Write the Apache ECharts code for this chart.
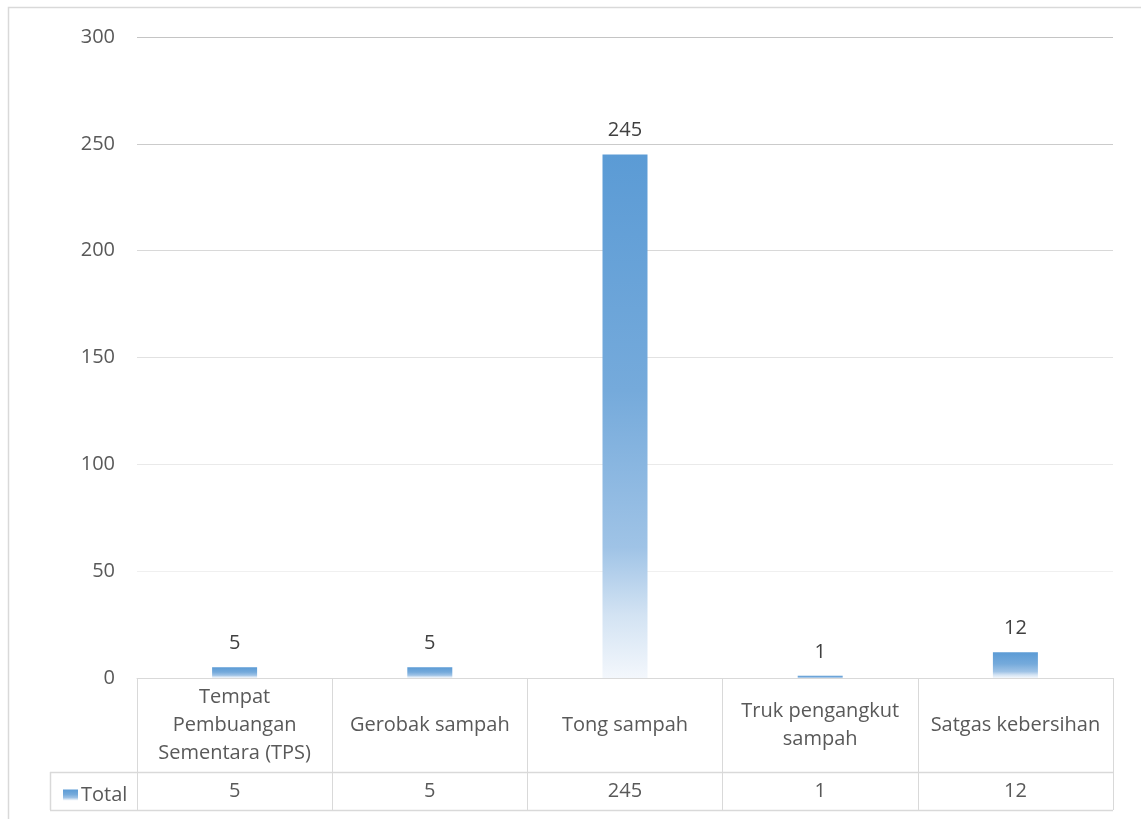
<!DOCTYPE html>
<html>
<head>
<meta charset="utf-8">
<script src="https://cdn.jsdelivr.net/npm/echarts@6/dist/echarts.min.js"></script>
<style>
  html, body { margin: 0; padding: 0; background: #ffffff; }
  #chart { width: 1141px; height: 819px; }
</style>
</head>
<body>
<div id="chart"></div>
<script>
// Fasilitas kebersihan: jumlah per jenis
const categories = [
  'Tempat\nPembuangan\nSementara (TPS)',
  'Gerobak sampah',
  'Tong sampah',
  'Truk pengangkut\nsampah',
  'Satgas kebersihan'
];
const totals = [5, 5, 245, 1, 12];
const seriesName = 'Total';
const yTicks = { min: 0, max: 300, interval: 50 };

const FONT = '"Open Sans", "DejaVu Sans", sans-serif';
const FS = 20;
const gridLeft = 137, gridRight = 28, gridTop = 37, gridBottom = 141;
const W = 1141, H = 819;
const axisY = H - gridBottom;          // y of the value-0 line
const row1Bottom = 772, row2Bottom = 810, tableLeft = 50;
const lineColor = '#d9d9d9';

const barGradient = {
  type: 'linear', x: 0, y: 0, x2: 0, y2: 1,
  colorStops: [
    { offset: 0, color: '#5b9bd5' },
    { offset: 0.45, color: '#75aadb' },
    { offset: 0.75, color: '#9fc3e6' },
    { offset: 0.88, color: '#d3e3f3' },
    { offset: 1, color: '#f3f7fc' }
  ]
};

const chart = echarts.init(document.getElementById('chart'), null, { renderer: 'canvas' });

chart.setOption({
  animation: false,
  backgroundColor: '#ffffff',
  grid: { left: gridLeft, right: gridRight, top: gridTop, bottom: gridBottom, containLabel: false },
  legend: {
    left: 58, top: 780,
    itemWidth: 15, itemHeight: 11, itemGap: 4,
    icon: 'rect',
    textStyle: { fontFamily: FONT, fontSize: FS, color: '#595959', padding: [0, 0, 0, -2] },
    data: [seriesName]
  },
  xAxis: [
    {
      type: 'category',
      data: categories,
      boundaryGap: true,
      axisLine: { show: true, lineStyle: { color: lineColor, width: 1 } },
      axisTick: { show: true, interval: 0, length: row2Bottom - axisY, lineStyle: { color: lineColor } },
      axisLabel: {
        interval: 0, margin: (row1Bottom - axisY) / 2, verticalAlign: 'middle',
        fontFamily: FONT, fontSize: FS, color: '#595959', lineHeight: 28, align: 'center'
      },
      splitLine: { show: false }
    },
    {
      type: 'category',
      position: 'bottom',
      data: categories,
      boundaryGap: true,
      axisLine: { show: false },
      axisTick: { show: false },
      axisLabel: {
        interval: 0, margin: (row1Bottom + row2Bottom) / 2 - axisY, verticalAlign: 'middle',
        fontFamily: FONT, fontSize: FS, color: '#595959',
        formatter: (v, i) => String(totals[i])
      }
    }
  ],
  yAxis: {
    type: 'value',
    min: yTicks.min, max: yTicks.max, interval: yTicks.interval,
    axisLine: { show: false },
    axisTick: { show: false },
    axisLabel: { margin: 22, fontFamily: FONT, fontSize: FS, color: '#595959' },
    splitLine: {
      show: true,
      lineStyle: {
        width: 1,
        color: ['#d9d9d9', '#f0f0f0', '#eaeaea', '#e2e2e2', '#d8d8d8', '#cbcbcb', '#c4c4c4']
      }
    }
  },
  series: [{
    name: seriesName,
    type: 'bar',
    data: totals,
    barWidth: 45,
    itemStyle: { color: barGradient },
    label: {
      show: true, position: 'top', distance: 14,
      fontFamily: FONT, fontSize: FS, color: '#404040'
    }
  }],
  graphic: [
    // chart frame
    { type: 'rect', silent: true, shape: { x: 8.5, y: 7.5, width: W, height: H },
      style: { fill: 'none', stroke: '#d9d9d9', lineWidth: 1.5 } },
    // data-table rules
    { type: 'line', silent: true, shape: { x1: tableLeft, y1: row1Bottom + 0.5, x2: W - gridRight, y2: row1Bottom + 0.5 },
      style: { stroke: lineColor, lineWidth: 1.5 } },
    { type: 'line', silent: true, shape: { x1: tableLeft, y1: row2Bottom + 0.5, x2: W - gridRight, y2: row2Bottom + 0.5 },
      style: { stroke: lineColor, lineWidth: 1.5 } },
    { type: 'line', silent: true, shape: { x1: tableLeft + 0.5, y1: row1Bottom, x2: tableLeft + 0.5, y2: row2Bottom },
      style: { stroke: lineColor, lineWidth: 1.5 } }
  ]
});
</script>
</body>
</html>
